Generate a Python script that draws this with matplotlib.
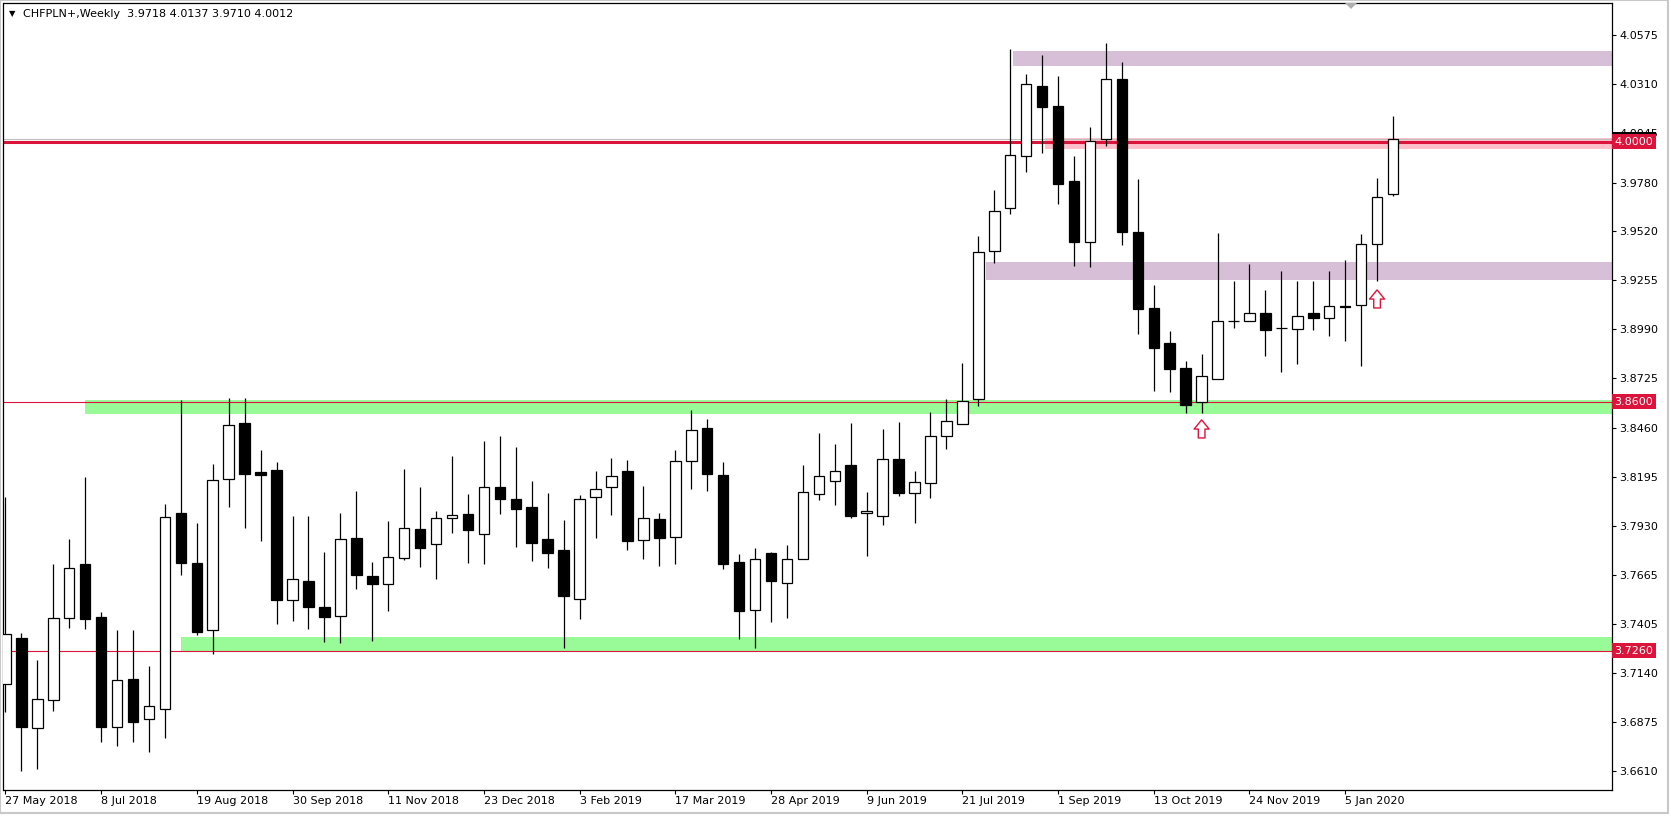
import numpy as np
import matplotlib.pyplot as plt
from matplotlib.patches import Polygon, Rectangle

# --- data (bar 0 = week of 27 May 2018) ---
title_text = "CHFPLN+,Weekly  3.9718 4.0137 3.9710 4.0012"

opens = [3.7080, 3.7326, 3.6841, 3.6992, 3.7434, 3.7726, 3.7439, 3.6850, 3.7105, 3.6890,
         3.6944, 3.7999, 3.7730, 3.7369, 3.8182, 3.8484, 3.8220, 3.8232, 3.7531, 3.7635,
         3.7493, 3.7444, 3.7865, 3.7662, 3.7617, 3.7757, 3.7912, 3.7832, 3.7972, 3.7994,
         3.7889, 3.8143, 3.8075, 3.8032, 3.7859, 3.7800, 3.7539, 3.8085, 3.8139, 3.8227,
         3.7854, 3.7967, 3.7870, 3.8279, 3.8457, 3.8206, 3.7735, 3.7477, 3.7784, 3.7622,
         3.7755, 3.8102, 3.8172, 3.8258, 3.7999, 3.7986, 3.8290, 3.8110, 3.8164, 3.8414,
         3.8479, 3.8613, 3.9410, 3.9642, 3.9922, 4.0300, 4.0193, 3.9789, 3.9459, 4.0015,
         4.0338, 3.9514, 3.9105, 3.8916, 3.8782, 3.8600, 3.8724, 3.9037, 3.9033, 3.9076,
         3.8999, 3.8990, 3.9076, 3.9049, 3.9116, 3.9119, 3.9448, 3.9718]
highs = [3.8089, 3.7353, 3.7209, 3.7726, 3.7861, 3.8195, 3.7466, 3.7371, 3.7371, 3.7177,
         3.8048, 3.8609, 3.7945, 3.8263, 3.8622, 3.8622, 3.8340, 3.8276, 3.7985, 3.7985,
         3.7789, 3.7999, 3.8119, 3.7735, 3.7958, 3.8236, 3.8141, 3.8010, 3.8308, 3.8103,
         3.8389, 3.8416, 3.8355, 3.8173, 3.8107, 3.7963, 3.8098, 3.8227, 3.8295, 3.8286,
         3.8146, 3.7999, 3.8340, 3.8556, 3.8505, 3.8274, 3.7780, 3.7812, 3.7789, 3.7829,
         3.8259, 3.8432, 3.8372, 3.8486, 3.8112, 3.8452, 3.8489, 3.8227, 3.8543, 3.8615,
         3.8807, 3.9493, 3.9740, 4.0500, 4.0365, 4.0467, 4.0354, 3.9923, 4.0080, 4.0534,
         4.0430, 3.9800, 3.9227, 3.8981, 3.8819, 3.8857, 3.9509, 3.9250, 3.9342, 3.9202,
         3.9304, 3.9250, 3.9250, 3.9304, 3.9363, 3.9503, 3.9803, 4.0137]
lows = [3.6931, 3.6613, 3.6621, 3.6936, 3.7383, 3.7378, 3.6769, 3.6748, 3.6769, 3.6716,
        3.6791, 3.7667, 3.7344, 3.7242, 3.8035, 3.7922, 3.7852, 3.7405, 3.7421, 3.7378,
        3.7308, 3.7299, 3.7592, 3.7313, 3.7475, 3.7746, 3.7712, 3.7647, 3.7895, 3.7733,
        3.7727, 3.7997, 3.7820, 3.7744, 3.7706, 3.7276, 3.7430, 3.7868, 3.7992, 3.7802,
        3.7753, 3.7717, 3.7727, 3.8130, 3.8119, 3.7701, 3.7324, 3.7276, 3.7414, 3.7437,
        3.7755, 3.8071, 3.8044, 3.7976, 3.7771, 3.7936, 3.8094, 3.7949, 3.8083, 3.8347,
        3.8479, 3.8579, 3.9349, 3.9613, 3.9839, 3.9941, 3.9667, 3.9333, 3.9327, 3.9979,
        3.9443, 3.8966, 3.8660, 3.8654, 3.8541, 3.8541, 3.8724, 3.8999, 3.9033, 3.8848,
        3.8762, 3.8802, 3.8986, 3.8956, 3.8929, 3.8794, 3.9252, 3.9710]
closes = [3.7348, 3.6847, 3.6998, 3.7434, 3.7703, 3.7432, 3.6850, 3.7100, 3.6877, 3.6960,
          3.7981, 3.7733, 3.7362, 3.8177, 3.8473, 3.8212, 3.8207, 3.7534, 3.7644, 3.7496,
          3.7442, 3.7859, 3.7669, 3.7620, 3.7762, 3.7918, 3.7814, 3.7972, 3.7992, 3.7910,
          3.8143, 3.8075, 3.8021, 3.7841, 3.7787, 3.7556, 3.8075, 3.8129, 3.8202, 3.7852,
          3.7972, 3.7868, 3.8279, 3.8446, 3.8212, 3.7727, 3.7475, 3.7751, 3.7636, 3.7751,
          3.8112, 3.8198, 3.8225, 3.7986, 3.8013, 3.8290, 3.8110, 3.8166, 3.8414, 3.8495,
          3.8602, 3.9405, 3.9626, 3.9927, 4.0310, 4.0189, 3.9774, 3.9462, 4.0003, 4.0336,
          3.9513, 3.9098, 3.8891, 3.8778, 3.8583, 3.8737, 3.9035, 3.9033, 3.9076, 3.8988,
          3.8997, 3.9060, 3.9049, 3.9114, 3.9110, 3.9448, 3.9701, 4.0012]

date_labels = ["27 May 2018", "8 Jul 2018", "19 Aug 2018", "30 Sep 2018", "11 Nov 2018",
               "23 Dec 2018", "3 Feb 2019", "17 Mar 2019", "28 Apr 2019", "9 Jun 2019",
               "21 Jul 2019", "1 Sep 2019", "13 Oct 2019", "24 Nov 2019", "5 Jan 2020"]
label_bars = [0, 6, 12, 18, 24, 30, 36, 42, 48, 54, 60, 66, 72, 78, 84]

price_ticks = [4.0575, 4.0310, 4.0045, 3.9780, 3.9520, 3.9255, 3.8990, 3.8725,
               3.8460, 3.8195, 3.7930, 3.7665, 3.7405, 3.7140, 3.6875, 3.6610]

level_prices = [4.0000, 3.8600, 3.7260]
level_widths = [2.2, 0.8, 0.8]
bid_price = 4.0012

# zones: start bar, low, high, colour
zone_start = [63.2, 61.5, 65.2, 5.0, 11.0]
zone_low = [4.0410, 3.9256, 3.9961, 3.8534, 3.7255]
zone_high = [4.0488, 3.9351, 4.0022, 3.8610, 3.7334]
zone_colors = ['#D8BFD8', '#D8BFD8', '#FFC0CB', '#98FB98', '#98FB98']

arrow_bars = [75, 86]
arrow_tips = [3.8502, 3.9202]

# --- figure ---
W, H = 1671, 816
fig = plt.figure(figsize=(W / 100, H / 100), dpi=100)
plt.rcParams['font.family'] = 'DejaVu Sans'
ax = fig.add_axes([3.5 / W, (H - 790) / H, (1612 - 3.5) / W, (790 - 3) / H])
ax.set_xlim(-0.12, 100.73)
ax.set_ylim(3.6509, 4.0747)

x = np.arange(len(opens))
o = np.array(opens)
c = np.array(closes)
up = c >= o

for s, lo, hi, col in zip(zone_start, zone_low, zone_high, zone_colors):
    ax.fill_between([s, 102], lo, hi, color=col, lw=0, zorder=1)

ax.axhline(bid_price, color='#C0C0C0', lw=0.8, zorder=1.5)
for p, w in zip(level_prices, level_widths):
    ax.axhline(p, color='#DC143C', lw=w, zorder=2)

# wicks then bodies
ax.vlines(x, lows, highs, color='black', lw=0.9, zorder=3)
body_bot = np.minimum(o, c)
body_h = np.maximum(np.abs(c - o), 0.0002)
ax.bar(x, body_h, bottom=body_bot, width=0.66,
       color=['white' if u else 'black' for u in up],
       edgecolor='black', linewidth=0.9, zorder=4)

# hollow red arrows under the key candles
for b, tip in zip(arrow_bars, arrow_tips):
    ax.annotate('', xy=(b, tip), xytext=(0, -13), textcoords='offset points',
                arrowprops=dict(arrowstyle='simple,head_length=0.55,head_width=0.9,tail_width=0.4',
                                fc='white', ec='#DC143C', lw=1, shrinkA=0, shrinkB=0,
                                mutation_scale=12),
                zorder=6)

# axes cosmetics
for sp in ax.spines.values():
    sp.set_linewidth(0.9)
    sp.set_color('black')
ax.yaxis.tick_right()
ax.set_yticks(price_ticks)
ax.set_yticklabels(["%.4f" % p for p in price_ticks])
ax.set_xticks(label_bars)
ax.set_xticklabels(date_labels, ha='left')
ax.tick_params(axis='both', direction='out', length=3, width=0.8, labelsize=8, colors='black')
ax.tick_params(axis='x', pad=1.5)
ax.tick_params(axis='y', pad=2)

# price label boxes on the right scale
ytr = ax.get_yaxis_transform()
ax.text(1.0015, bid_price, "%.4f" % bid_price, transform=ytr, color='white', fontsize=8,
        va='center', ha='left', clip_on=False, zorder=7,
        bbox=dict(boxstyle='square,pad=0.25', fc='black', ec='none'))
for p in level_prices:
    ax.text(1.0015, p, "%.4f" % p, transform=ytr, color='white', fontsize=8,
            va='center', ha='left', clip_on=False, zorder=8,
            bbox=dict(boxstyle='square,pad=0.25', fc='#DC143C', ec='none'))

# title in the upper left corner
fig.text(9 / W, 1 - 14 / H, u'\u25BC', fontsize=6, va='center', ha='left')
fig.text(23 / W, 1 - 14 / H, title_text, fontsize=8, va='center', ha='left')

# small chart-shift marker on the top border
fig.patches.append(Polygon([[1345 / W, 1 - 3 / H], [1357 / W, 1 - 3 / H], [1351 / W, 1 - 9 / H]],
                           closed=True, transform=fig.transFigure, fc='#B0B0B0', ec='none'))
# light outer frame
fig.patches.append(Rectangle((0, 3 / H), 1668 / W, 1 - 3 / H, transform=fig.transFigure,
                             fill=False, ec='#C8C8C8', lw=1.5))

fig.savefig('out.png', dpi=100)
